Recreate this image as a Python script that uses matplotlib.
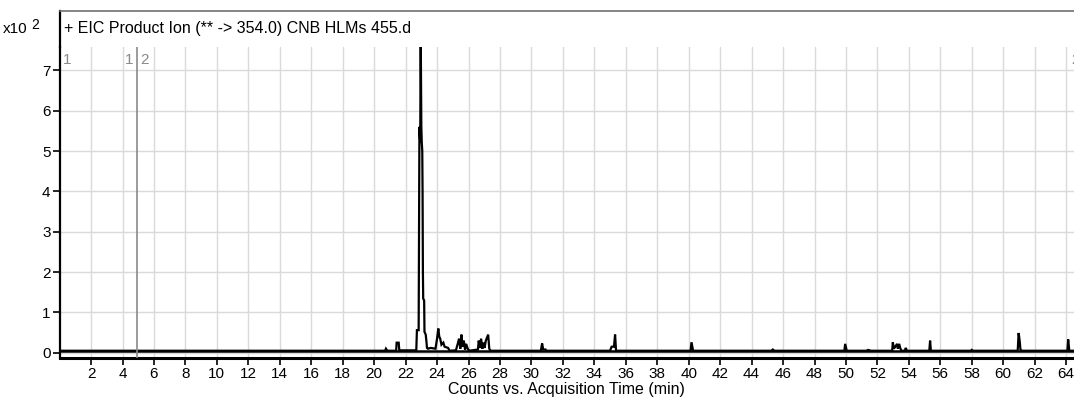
import matplotlib
matplotlib.use("Agg")
import matplotlib.pyplot as plt
from matplotlib.lines import Line2D

plt.rcParams['font.family'] = ['Liberation Sans', 'DejaVu Sans']

# --- chromatogram, counts in units of 10^2 ---
times = [0.0, 20.70, 20.75, 20.80, 20.85, 21.40, 21.43, 21.56, 21.60,
         22.68, 22.72, 22.83, 22.88, 22.93, 22.96, 23.00, 23.03, 23.06,
         23.08, 23.10, 23.12, 23.18, 23.20, 23.28, 23.32, 23.36, 23.42,
         23.60, 23.90, 24.00, 24.08, 24.14, 24.20, 24.28, 24.40, 24.48,
         24.70, 24.80, 25.20, 25.30, 25.40, 25.48, 25.55, 25.62, 25.70,
         25.78, 25.85, 25.95, 26.05, 26.60, 26.65, 26.72, 26.80, 26.88,
         26.95, 27.02, 27.10, 27.25, 27.32, 27.40, 30.60, 30.68, 30.75,
         30.90, 30.95, 35.00, 35.10, 35.25, 35.32, 35.38, 40.12, 40.18,
         40.28, 45.25, 45.35, 45.45, 49.90, 49.95, 50.05, 51.30, 51.40,
         51.60, 52.94, 52.98, 53.05, 53.25, 53.30, 53.38, 53.45, 53.52,
         53.75, 53.80, 53.88, 55.30, 55.35, 55.40, 57.95, 58.00, 58.05,
         60.92, 60.98, 61.05, 61.10, 61.18, 64.08, 64.13, 64.20, 64.50]
counts = [0.05, 0.05, 0.10, 0.07, 0.05, 0.05, 0.25, 0.25, 0.06,
          0.06, 0.56, 0.56, 5.60, 5.20, 8.00, 5.60, 5.20, 5.00,
          3.98, 2.00, 1.34, 1.30, 0.52, 0.45, 0.30, 0.12, 0.10,
          0.12, 0.10, 0.35, 0.60, 0.40, 0.35, 0.20, 0.25, 0.15,
          0.12, 0.05, 0.06, 0.20, 0.35, 0.10, 0.45, 0.15, 0.30,
          0.08, 0.22, 0.10, 0.05, 0.08, 0.30, 0.12, 0.35, 0.10,
          0.25, 0.12, 0.30, 0.45, 0.10, 0.05, 0.05, 0.23, 0.08,
          0.08, 0.05, 0.05, 0.15, 0.15, 0.45, 0.05, 0.05, 0.26,
          0.05, 0.05, 0.08, 0.05, 0.05, 0.22, 0.05, 0.05, 0.07,
          0.05, 0.05, 0.26, 0.10, 0.22, 0.10, 0.22, 0.12, 0.05,
          0.05, 0.12, 0.05, 0.05, 0.30, 0.05, 0.05, 0.07, 0.05,
          0.05, 0.49, 0.28, 0.05, 0.05, 0.05, 0.33, 0.05, 0.05]

x_ticks = list(range(2, 65, 2))
y_ticks = list(range(0, 8))
marker_time = 4.93
title = "+ EIC Product Ion (** -> 354.0) CNB HLMs 455.d"

W, H = 1074, 404
fig = plt.figure(figsize=(W / 100, H / 100), dpi=100)
left, right, bottom, top = 59.6, 1074, 358, 47
ax = fig.add_axes([left / W, 1 - bottom / H, (right - left) / W, (bottom - top) / H])

ax.plot(times, counts, color='black', lw=1.6, solid_joinstyle='miter')
# thicker baseline
ax.axhline(0.05, color='black', lw=1.8, zorder=1)

ax.set_xlim(0, 64.5)
ax.set_ylim(-0.13, 7.58)
ax.set_xticks(x_ticks)
ax.set_yticks(y_ticks)
ax.grid(True, color='#dadada', lw=1.0)
ax.set_axisbelow(True)

for s in ['top', 'right']:
    ax.spines[s].set_visible(False)
ax.spines['left'].set_linewidth(1.6)
ax.spines['bottom'].set_linewidth(2.2)
ax.tick_params(axis='both', direction='out', length=5, width=1.2,
               labelsize=11, colors='black', pad=1.5)

ax.set_xlabel("Counts vs. Acquisition Time (min)", fontsize=11.5, labelpad=1)

# marker line and labels
ax.axvline(marker_time, color='#8a8a8a', lw=1.2, zorder=3)
lab_y = 7.25
ax.text(0.2, lab_y, "1", color='#8a8a8a', fontsize=11, va='center', ha='left')
ax.text(marker_time - 0.25, lab_y, "1", color='#8a8a8a', fontsize=11, va='center', ha='right')
ax.text(marker_time + 0.2, lab_y, "2", color='#8a8a8a', fontsize=11, va='center', ha='left')
ax.text(64.3, lab_y, "2", color='#8a8a8a', fontsize=11, va='center', ha='left', clip_on=False)

# title band above the plot
fig.add_artist(Line2D([left / W, left / W], [1 - top / H, 1 - 11 / H], color='black', lw=1.6))
fig.add_artist(Line2D([left / W, 1.0], [1 - 11 / H, 1 - 11 / H], color='#707070', lw=1.2))
fig.text(64 / W, 1 - 28 / H, title, fontsize=11.5, va='center', ha='left')
fig.text(27 / W, 1 - 29 / H, "x10", fontsize=11, va='center', ha='right')
fig.text(31 / W, 1 - 25 / H, "2", fontsize=10, va='center', ha='left')

fig.savefig("out.png", dpi=100)
